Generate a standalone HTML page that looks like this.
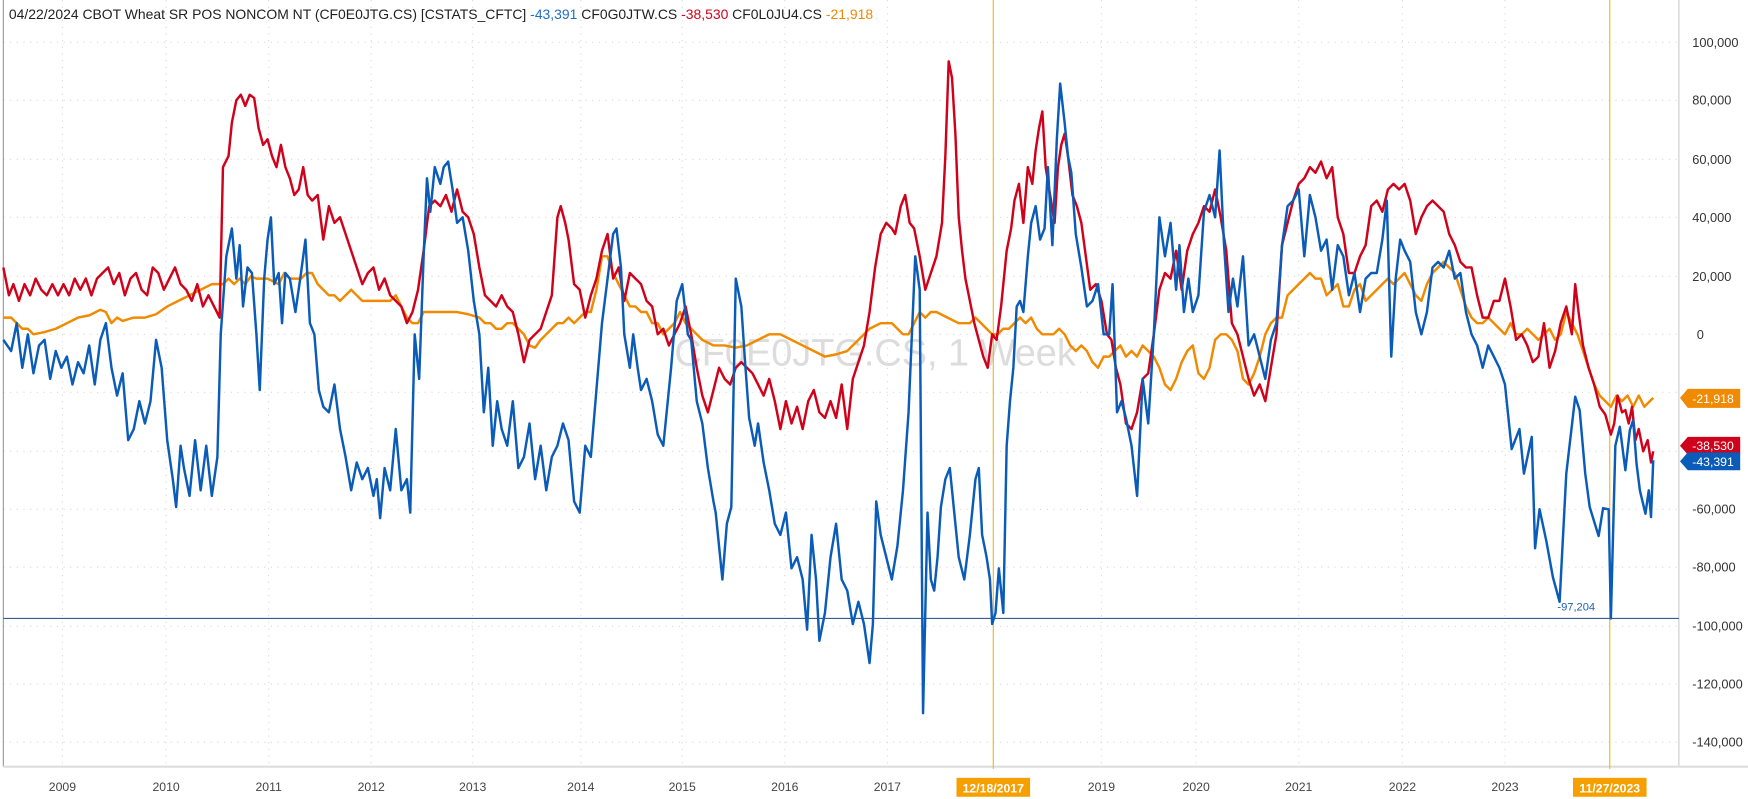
<!DOCTYPE html>
<html><head><meta charset="utf-8"><style>
html,body{margin:0;padding:0;background:#fff;overflow:hidden}
svg{display:block;font-family:"Liberation Sans",sans-serif}
</style></head><body>
<svg width="1748" height="799" viewBox="0 0 1568 717" preserveAspectRatio="none" xmlns="http://www.w3.org/2000/svg">
<rect width="1568" height="717" fill="#fff"/>
<g stroke="#d8d8d8" stroke-width="1" stroke-dasharray="1,5">
<line x1="3" x2="1506" y1="38" y2="38"/><line x1="3" x2="1506" y1="90" y2="90"/><line x1="3" x2="1506" y1="143" y2="143"/><line x1="3" x2="1506" y1="195" y2="195"/><line x1="3" x2="1506" y1="248" y2="248"/><line x1="3" x2="1506" y1="300" y2="300"/><line x1="3" x2="1506" y1="352" y2="352"/><line x1="3" x2="1506" y1="405" y2="405"/><line x1="3" x2="1506" y1="457" y2="457"/><line x1="3" x2="1506" y1="509" y2="509"/><line x1="3" x2="1506" y1="562" y2="562"/><line x1="3" x2="1506" y1="614" y2="614"/><line x1="3" x2="1506" y1="666" y2="666"/>
<line x1="56" x2="56" y1="0" y2="688"/><line x1="149" x2="149" y1="0" y2="688"/><line x1="241" x2="241" y1="0" y2="688"/><line x1="333" x2="333" y1="0" y2="688"/><line x1="424" x2="424" y1="0" y2="688"/><line x1="521" x2="521" y1="0" y2="688"/><line x1="612" x2="612" y1="0" y2="688"/><line x1="704" x2="704" y1="0" y2="688"/><line x1="796" x2="796" y1="0" y2="688"/><line x1="988" x2="988" y1="0" y2="688"/><line x1="1073" x2="1073" y1="0" y2="688"/><line x1="1165" x2="1165" y1="0" y2="688"/><line x1="1258" x2="1258" y1="0" y2="688"/><line x1="1350" x2="1350" y1="0" y2="688"/>
</g>
<line x1="3" x2="3" y1="0" y2="688" stroke="#999"/>
<line x1="1506" x2="1506" y1="0" y2="688" stroke="#ccc"/>
<line x1="3" x2="1568" y1="688" y2="688" stroke="#ddd" stroke-width="2"/>
<text x="785" y="328" font-size="34" fill="#dcdcdc" text-anchor="middle">CF0E0JTG.CS, 1 Week</text>
<line x1="891" x2="891" y1="0" y2="690" stroke="#f5b21b" stroke-width="1"/>
<line x1="1444" x2="1444" y1="0" y2="690" stroke="#f5b21b" stroke-width="1"/>
<line x1="3" x2="1506" y1="555" y2="555" stroke="#3a5e8c" stroke-width="1"/>
<text x="1397" y="548" font-size="10" fill="#1f5fae">-97,204</text>
<g fill="none" stroke-width="2.2" stroke-linejoin="round">
<polyline stroke="#f08a00" points="3,285 10,285 15,290 20,295 25,295 30,300 40,298 50,295 60,290 70,285 80,283 90,278 95,280 100,290 105,285 110,288 120,285 130,285 140,282 150,275 160,270 170,265 180,260 190,255 200,255 205,250 210,255 215,250 220,255 225,248 230,250 240,250 250,255 255,245 260,250 270,250 275,245 280,245 285,255 290,260 295,265 300,265 305,270 310,265 315,260 320,265 325,270 330,270 340,270 350,270 355,265 360,275 365,285 370,290 375,290 380,280 385,280 390,280 400,280 410,280 420,282 430,285 435,290 440,290 445,295 450,295 455,290 460,290 465,295 470,300 475,310 480,312 485,305 490,300 495,295 500,290 505,290 510,285 515,290 520,285 525,280 530,280 535,260 540,230 545,230 550,245 555,255 560,265 565,275 570,275 575,280 580,280 585,290 590,290 595,300 600,295 605,290 610,280 615,290 620,295 625,300 630,305 640,310 650,310 660,312 670,310 680,305 690,300 700,300 710,305 720,310 730,315 740,320 750,318 760,315 770,305 780,295 790,290 800,290 810,300 815,300 820,290 825,280 830,285 835,280 840,280 850,285 860,290 870,290 875,285 880,290 885,295 890,300 895,300 900,295 905,295 910,290 915,285 920,290 925,285 930,295 935,300 940,300 945,300 950,295 955,300 960,310 965,315 970,310 975,315 980,325 985,330 990,320 995,320 1000,315 1005,310 1010,320 1015,315 1020,320 1025,310 1030,315 1035,320 1040,330 1045,345 1050,350 1055,340 1060,325 1065,315 1070,310 1075,335 1080,340 1085,330 1090,305 1095,300 1100,300 1105,305 1110,315 1115,340 1120,345 1125,335 1130,320 1135,300 1140,290 1145,285 1150,285 1155,265 1160,260 1165,255 1170,250 1175,245 1180,250 1185,250 1190,265 1195,260 1200,255 1205,275 1210,275 1215,260 1220,255 1225,270 1230,265 1235,260 1240,255 1245,250 1250,255 1255,250 1260,245 1265,255 1270,265 1275,270 1280,255 1285,245 1290,240 1295,235 1300,240 1305,245 1310,260 1315,275 1320,285 1325,290 1330,290 1335,285 1340,290 1345,295 1350,300 1355,290 1360,300 1365,300 1370,295 1375,300 1380,305 1385,300 1390,295 1395,305 1400,300 1405,280 1410,290 1415,300 1420,315 1425,330 1430,345 1435,355 1440,360 1445,365 1450,355 1455,360 1460,355 1465,365 1470,355 1475,365 1480,360 1483,357"/>
<polyline stroke="#d0021b" points="3,240 8,265 12,255 17,270 22,255 27,265 32,250 37,260 42,265 47,255 52,265 57,255 62,265 67,250 72,260 77,250 82,265 87,250 92,245 97,240 102,255 107,245 112,265 117,250 122,245 127,260 132,265 137,240 142,245 147,260 152,250 157,240 162,255 167,260 172,270 177,255 182,275 187,265 192,275 197,285 200,150 205,140 208,110 212,90 216,85 220,95 224,85 228,88 232,115 236,130 240,125 244,140 248,150 252,130 256,150 260,160 264,175 268,170 272,150 276,175 280,180 285,175 290,215 295,185 300,200 305,195 310,210 315,225 320,240 325,255 330,245 335,240 340,260 345,250 350,265 355,270 360,275 365,290 370,280 375,260 380,225 385,185 390,180 395,185 400,175 405,190 410,170 415,190 420,195 425,210 430,240 435,265 440,270 445,275 450,265 455,275 460,280 465,300 470,325 475,305 480,300 485,295 490,280 495,265 500,195 503,185 507,200 510,215 515,255 520,260 525,285 530,265 535,250 540,225 545,210 550,250 555,240 560,270 565,245 570,250 575,255 580,270 585,275 590,300 595,295 600,310 605,300 610,290 615,275 620,300 625,330 630,355 635,370 640,350 645,330 650,340 655,345 660,330 665,325 670,330 675,335 680,345 685,355 690,340 695,360 700,385 705,360 710,380 715,365 720,385 725,360 730,350 735,370 740,375 745,360 750,375 755,345 760,385 765,340 770,325 775,310 780,280 785,240 790,210 795,200 800,205 803,210 808,185 812,175 816,200 820,205 825,230 830,260 835,245 840,230 845,200 848,140 851,55 854,70 857,120 860,195 863,225 866,250 870,270 874,290 878,305 882,320 886,330 890,300 894,305 898,275 903,225 907,205 910,180 914,165 918,200 922,150 926,165 929,135 932,115 935,100 938,150 942,175 946,200 949,150 952,130 955,120 958,140 962,175 966,185 970,200 974,230 978,260 983,255 988,270 993,300 997,305 1001,330 1005,345 1010,380 1015,385 1020,370 1025,340 1030,335 1035,300 1040,260 1045,245 1050,250 1055,225 1060,260 1065,225 1070,210 1075,200 1080,185 1085,190 1090,170 1095,195 1100,225 1105,290 1110,300 1115,320 1120,340 1125,355 1130,345 1135,360 1140,330 1145,300 1150,220 1155,200 1160,180 1165,165 1170,160 1175,150 1180,155 1185,145 1190,160 1195,150 1200,195 1205,210 1210,245 1215,245 1220,230 1225,220 1230,185 1235,180 1240,190 1245,170 1250,165 1255,170 1260,165 1265,180 1270,210 1275,195 1280,185 1285,180 1290,185 1295,190 1300,210 1305,220 1310,235 1315,240 1320,240 1325,265 1330,285 1335,285 1340,270 1345,270 1350,250 1355,275 1360,305 1365,300 1370,310 1375,325 1380,320 1385,290 1390,330 1395,315 1400,290 1405,275 1410,300 1413,255 1416,280 1420,310 1425,330 1430,345 1435,365 1440,372 1445,390 1448,380 1451,355 1455,370 1458,368 1461,380 1464,365 1467,395 1470,385 1474,405 1478,395 1481,415 1483,405"/>
<polyline stroke="#0a5cb8" points="3,305 10,315 15,290 20,330 25,300 30,335 35,310 40,305 45,340 50,315 55,330 60,320 65,345 70,325 75,335 80,310 85,345 90,305 95,290 100,330 105,355 110,335 115,395 120,385 125,360 130,380 135,360 140,305 145,330 150,395 155,430 158,455 162,400 165,420 170,445 175,395 180,440 185,400 190,445 195,410 198,300 203,230 208,205 212,250 215,220 218,275 222,240 226,245 230,300 233,350 237,250 240,215 243,195 246,255 250,245 253,290 256,245 260,250 265,280 270,245 274,215 278,290 282,300 286,350 290,365 295,370 300,345 305,385 310,410 315,440 320,415 325,430 330,420 335,445 338,430 341,465 345,420 350,440 355,385 360,440 365,430 368,460 372,300 376,340 380,230 383,160 386,190 390,150 395,165 398,150 402,145 406,170 410,200 415,195 420,225 425,270 430,300 434,370 438,330 442,400 446,360 450,385 455,400 460,360 465,420 470,410 475,380 480,430 485,400 490,440 495,410 500,400 505,380 510,395 515,450 520,460 525,400 530,410 535,350 540,290 545,250 550,210 553,205 557,240 560,300 565,330 568,300 572,330 575,350 580,340 585,360 590,390 595,400 598,370 602,330 607,270 612,255 617,300 620,305 625,360 630,380 635,420 640,450 642,460 648,520 652,470 656,455 660,250 665,275 668,320 672,375 677,400 680,380 685,415 690,440 695,470 700,480 705,460 710,510 715,500 720,520 724,565 728,480 732,520 735,575 740,550 745,500 750,470 755,520 760,530 765,560 770,540 775,560 780,595 783,560 786,450 790,480 795,500 800,520 805,490 810,440 815,370 818,300 821,230 825,260 828,640 832,460 835,520 838,530 841,500 844,455 848,430 852,420 856,460 860,500 865,520 870,480 875,430 878,420 881,480 885,500 888,520 890,560 893,550 896,510 900,550 903,400 906,360 909,330 912,275 915,270 918,280 922,230 925,200 929,185 933,215 937,205 940,150 944,220 948,125 951,75 955,110 958,140 961,155 965,210 970,240 975,275 980,270 985,255 990,300 995,300 998,255 1002,370 1006,360 1010,375 1015,400 1020,445 1025,340 1030,380 1035,300 1040,195 1045,230 1050,200 1055,260 1058,220 1062,280 1066,250 1070,280 1075,265 1080,190 1085,175 1090,195 1094,135 1098,220 1102,280 1106,250 1110,275 1115,230 1120,310 1125,300 1130,320 1135,340 1140,305 1145,290 1150,220 1155,185 1160,180 1165,170 1170,230 1175,175 1180,195 1185,225 1190,215 1195,260 1200,220 1205,230 1210,265 1215,245 1220,280 1225,250 1230,245 1235,245 1240,215 1244,180 1248,320 1252,250 1256,215 1260,225 1265,235 1270,280 1275,300 1280,280 1285,240 1290,235 1295,240 1300,225 1305,250 1310,245 1315,280 1320,300 1325,310 1330,330 1335,310 1340,320 1345,330 1350,345 1356,403 1363,385 1367,425 1374,392 1377,492 1381,457 1387,485 1393,518 1399,540 1405,425 1413,356 1417,368 1422,425 1426,455 1434,481 1438,456 1443,457 1445,555 1449,400 1453,383 1458,422 1462,386 1465,377 1468,416 1471,440 1476,461 1479,440 1481,464 1483,413"/>
</g>
<g font-size="11.5" fill="#333">
<text x="1518" y="42">100,000</text><text x="1518" y="94">80,000</text><text x="1518" y="147">60,000</text><text x="1518" y="199">40,000</text><text x="1518" y="252">20,000</text><text x="1522" y="304">0</text><text x="1518" y="461">-60,000</text><text x="1518" y="513">-80,000</text><text x="1518" y="566">-100,000</text><text x="1518" y="618">-120,000</text><text x="1518" y="670">-140,000</text>
</g>
<g>
<polygon points="1507,357 1514,349 1561,349 1561,366 1514,366" fill="#f08a00"/><text x="1518" y="361.5" font-size="11" fill="#fff">-21,918</text>
<polygon points="1507,400 1514,392 1561,392 1561,408 1514,408" fill="#d0021b"/><text x="1518" y="404" font-size="11" fill="#fff">-38,530</text>
<polygon points="1507,414 1514,406 1561,406 1561,422 1514,422" fill="#0a5cb8"/><text x="1518" y="418" font-size="11" fill="#fff">-43,391</text>
</g>
<g font-size="11" fill="#444" text-anchor="middle">
<text x="56" y="710">2009</text><text x="149" y="710">2010</text><text x="241" y="710">2011</text><text x="333" y="710">2012</text><text x="424" y="710">2013</text><text x="521" y="710">2014</text><text x="612" y="710">2015</text><text x="704" y="710">2016</text><text x="796" y="710">2017</text><text x="988" y="710">2019</text><text x="1073" y="710">2020</text><text x="1165" y="710">2021</text><text x="1258" y="710">2022</text><text x="1350" y="710">2023</text>
</g>
<rect x="858" y="698" width="66" height="17" fill="#f5a000"/><text x="891" y="711" font-size="11" fill="#fff" text-anchor="middle" font-weight="bold">12/18/2017</text>
<rect x="1411" y="698" width="66" height="17" fill="#f5a000"/><text x="1444" y="711" font-size="11" fill="#fff" text-anchor="middle" font-weight="bold">11/27/2023</text>
<text x="8" y="17" font-size="12.5" fill="#222">04/22/2024 CBOT Wheat SR POS NONCOM NT (CF0E0JTG.CS) [CSTATS_CFTC] <tspan fill="#1f6fc5">-43,391</tspan>  CF0G0JTW.CS <tspan fill="#d0021b">-38,530</tspan>  CF0L0JU4.CS <tspan fill="#f08a00">-21,918</tspan></text>
</svg>
</body></html>
